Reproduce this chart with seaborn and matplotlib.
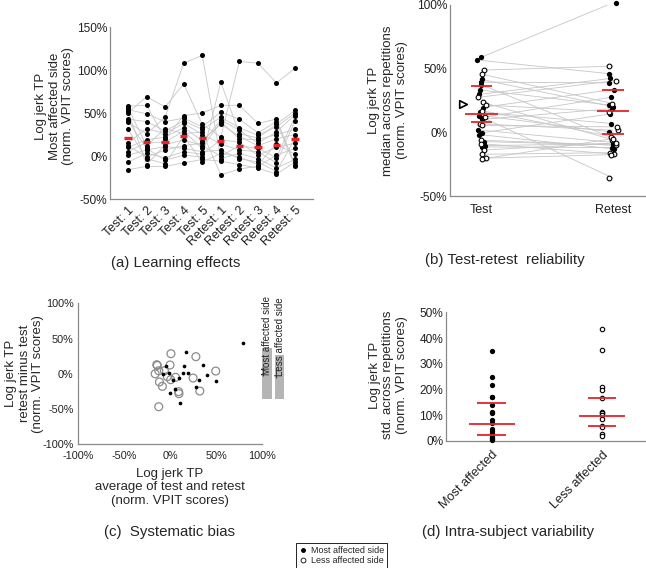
import numpy as np
import pandas as pd
import matplotlib
matplotlib.use("Agg")
import matplotlib.pyplot as plt
import seaborn as sns
from matplotlib.lines import Line2D
from matplotlib.ticker import FuncFormatter

# (a) learning effects, most affected side, one list per session (same subject order)
sessions = ["Test: 1", "Test: 2", "Test: 3", "Test: 4", "Test: 5",
            "Retest: 1", "Retest: 2", "Retest: 3", "Retest: 4", "Retest: 5"]
t1 = [50, 39, 58, 56, 54, 52, 43, 41, 15, 12, 10, 5, 1, -7, -16, 31]
t2 = [69, 26, 59, 12, 49, -10, 40, 9, 32, -1, 19, 16, 7, 3, -12, -3]
t3 = [57, 45, 20, 32, 40, 13, 29, -5, 26, 7, 22, 16, 11, -2, -12, -9]
t4 = [84, 108, 47, 26, 44, 19, 41, 1, 38, 12, 33, 29, 9, 5, -8, 23]
t5 = [37, 117, 50, 28, 34, 12, 31, -1, 25, 15, 18, 9, 5, 2, -4, -7]
r1 = [22, -3, 59, -22, 51, 0, 45, 86, 14, 42, 37, 40, 7, 19, -6, 3]
r2 = [110, 3, 59, -15, 43, 12, 33, 26, 7, 30, 23, 20, -3, 16, -10, -1]
r3 = [108, -3, 38, -12, 27, 9, 24, 21, 5, 15, 12, 19, -7, 1, -14, -10]
r4 = [85, -14, 43, 1, 40, -2, 34, 37, -8, 28, 20, 25, -18, 10, -21, 14]
r5 = [102, -4, -10, 9, -12, 46, 50, 53, 41, 48, 25, 31, 20, 15, -7, 2]
session_medians = [21, 16, 16, 23, 21, 18, 12, 10, 13, 20]

# (b) test-retest medians
b_test_most = [58.9, 56.3, 41.4, 39.3, 37.2, 33, 29.9, 19.4, 15.7, 13, 11.5, 10, 1.6, -0.5, -2, -7.3, -10.5, -11.5]
b_retest_most = [101.6, 45.6, 20, 38.7, -4.7, 21, 42.4, 33.5, 6.8, 0, 27.7, 18.6, -8, 14.7, -13, -10, -9, -12]
b_test_less = [48.7, 45.6, 27.7, 23.8, 21.5, 17, 12, 6.5, 5.3, -6.3, -9, -14, -17.3, -20.4, -21]
b_retest_less = [51.8, 22.5, 40.3, -6, 16, -3.7, -35.9, 1.6, 4.2, -10, -17, -8.5, -16, -17.5, -5]
b_q1 = [8.4, -1.6]
b_median = [14.4, 16.8]
b_q3 = [36.4, 33]
b_marker = 22.5

# (c) systematic bias
c_mean_most = [16.8, 78.8, -4.6, -7.9, -1, 15.4, 35.8, 19.7, 13.6, 9.3, 2.9, 31.5, 39.8, 50.2, 5, -0.4, 28, 11]
c_diff_most = [31.6, 43, 10.5, -0.8, 1, 11.3, 12.5, 1, 1, -5.5, -9.4, -8.3, -2.3, -10.3, -21, -26.7, -18.7, -42]
c_mean_less = [1, 28, -14.3, -13.8, 0, -12.2, -6.1, -16.1, -2.9, 0.7, 6, 25, 49.5, -11.5, -8.3, 32.3, 9.3, 9.7, -12.2]
c_diff_less = [28.5, 24.3, 12.9, 11.8, 12.5, 4.3, 4.3, 0, -4, -8.3, -5, -6, 3.9, -11.6, -17.8, -24.5, -25.3, -28.2, -46.7]
c_sides = ["Most affected side", "Less affected side"]
c_loa_upper = [37, 26.7]
c_loa_lower = [-35.8, -35.8]
c_bias = [-1.7, -3.6]

# (d) intra-subject variability
d_groups = ["Most affected", "Less affected"]
d_most = [35.1, 24.9, 21.6, 17.1, 16.9, 13.8, 11.2, 10.9, 8.1, 7, 4.7, 3.9, 2.9, 2.1, 1.6, 1, 0.5, 0.3]
d_less = [43.4, 35.3, 21, 19.7, 16.6, 11.3, 10.6, 10, 8.3, 5.8, 5.5, 2.6, 1.8]
d_q1 = [2.2, 5.6]
d_median = [6.4, 9.7]
d_q3 = [14.7, 16.6]

sns.set_theme(style="white")
plt.rcParams["font.family"] = ["Liberation Sans", "DejaVu Sans"]
plt.rcParams["axes.unicode_minus"] = False

RED = "#e3242b"
LINE = "#c6c6c6"
LAB = 9.5
pct = FuncFormatter(lambda v, p: f"{v:.0f}%")


def style(ax):
    sns.despine(ax=ax)
    for s in ["left", "bottom"]:
        ax.spines[s].set_color("#8a8a8a")
        ax.spines[s].set_linewidth(0.9)
    ax.tick_params(length=0, labelsize=8.6, pad=2, labelcolor="#222222")
    ax.yaxis.set_major_formatter(pct)


fig = plt.figure(figsize=(6.46, 5.68), dpi=100)
axa = fig.add_axes([0.1703, 0.6496, 0.3142, 0.3028])
axb = fig.add_axes([0.6966, 0.6549, 0.3034, 0.3368])
axc = fig.add_axes([0.1203, 0.2178, 0.3215, 0.2482])
axd = fig.add_axes([0.6904, 0.2241, 0.308, 0.226])

# ---- (a)
rows = []
for i, vals in enumerate([t1, t2, t3, t4, t5, r1, r2, r3, r4, r5]):
    for subj, v in enumerate(vals):
        rows.append({"pos": i, "subject": subj, "value": v})
df_a = pd.DataFrame(rows)
sns.lineplot(data=df_a, x="pos", y="value", units="subject", estimator=None,
             color=LINE, lw=0.6, legend=False, ax=axa)
sns.scatterplot(data=df_a, x="pos", y="value", color="black", s=13, linewidth=0, ax=axa, zorder=3)
pos_a = np.arange(len(sessions))
axa.hlines(session_medians, pos_a - 0.2, pos_a + 0.2, color=RED, lw=2.4, zorder=4)
style(axa)
axa.set_xlim(-0.97, 9.97)
axa.set_ylim(-50, 150)
axa.set_yticks([-50, 0, 50, 100, 150])
axa.set_xticks(pos_a, sessions, rotation=45, ha="right", rotation_mode="anchor")
axa.tick_params(axis="x", labelsize=9, pad=4)
axa.set_xlabel("")
axa.set_ylabel("Log jerk TP\nMost affected side\n(norm. VPIT scores)", fontsize=LAB, linespacing=1.2)
axa.yaxis.set_label_coords(-0.175, 0.54)

# ---- (b)
rows = []
for side, te, re in [("most", b_test_most, b_retest_most), ("less", b_test_less, b_retest_less)]:
    for k, (a, b) in enumerate(zip(te, re)):
        rows.append({"subject": f"{side}{k}", "side": side, "session": "Test", "pos": 0, "value": a})
        rows.append({"subject": f"{side}{k}", "side": side, "session": "Retest", "pos": 1, "value": b})
df_b = pd.DataFrame(rows)
sns.lineplot(data=df_b, x="pos", y="value", units="subject", estimator=None,
             color=LINE, lw=0.6, legend=False, ax=axb)
np.random.seed(2)
sns.stripplot(data=df_b[df_b.side == "most"], x="session", y="value", order=["Test", "Retest"],
              jitter=0.035, color="black", size=3.8, ax=axb, zorder=3, clip_on=False)
sns.stripplot(data=df_b[df_b.side == "less"], x="session", y="value", order=["Test", "Retest"],
              jitter=0.035, color="white", edgecolor="black", linewidth=0.8, size=3.4, ax=axb, zorder=3)
pos_b = np.arange(2)
axb.hlines(b_median, pos_b - 0.124, pos_b + 0.124, color=RED, lw=1.3, zorder=4)
axb.hlines(b_q1 + b_q3, np.tile(pos_b, 2) - 0.082, np.tile(pos_b, 2) + 0.082, color=RED, lw=1.3, zorder=4)
axb.scatter([-0.144], [b_marker], marker=">", s=30, facecolor="white", edgecolor="black", linewidth=1.2, zorder=4)
style(axb)
axb.set_xlim(-0.24, 1.25)
axb.set_ylim(-50, 100)
axb.set_yticks([-50, 0, 50, 100])
axb.tick_params(axis="x", labelsize=9, pad=6)
axb.set_xlabel("")
axb.set_ylabel("Log jerk TP\nmedian across repetitions\n(norm. VPIT scores)", fontsize=LAB, linespacing=1.2)
axb.yaxis.set_label_coords(-0.214, 0.5)

# ---- (c)
sns.scatterplot(x=c_mean_less, y=c_diff_less, color="none", edgecolor="#8c8c8c", linewidth=0.9, s=32, ax=axc)
sns.scatterplot(x=c_mean_most, y=c_diff_most, color="black", linewidth=0, s=7, ax=axc)
bar_x = [105, 119]
axc.bar(bar_x, np.array(c_loa_upper) - np.array(c_loa_lower), bottom=c_loa_lower, width=10,
        color="#b5b5b5", linewidth=0)
for x, b, lab in zip(bar_x, c_bias, c_sides):
    axc.vlines(x - 4.6, b - 2, b + 12, color="#444444", lw=0.8)
    axc.text(x, b, lab, rotation=90, ha="center", va="bottom", fontsize=7, color="#222222", clip_on=False)
style(axc)
axc.xaxis.set_major_formatter(pct)
axc.set_xlim(-100, 125)
axc.set_ylim(-100, 100)
axc.spines["bottom"].set_bounds(-100, 100)
axc.set_xticks([-100, -50, 0, 50, 100])
axc.set_yticks([-100, -50, 0, 50, 100])
axc.tick_params(labelsize=7.8)
axc.tick_params(axis="x", pad=5)
axc.tick_params(axis="y", pad=3)
axc.set_xlabel("Log jerk TP\naverage of test and retest\n(norm. VPIT scores)", fontsize=LAB, linespacing=1.2)
axc.xaxis.set_label_coords(0.444, -0.165)
axc.set_ylabel("Log jerk TP\nretest minus test\n(norm. VPIT scores)", fontsize=LAB, linespacing=1.2)
axc.yaxis.set_label_coords(-0.16, 0.5)

# ---- (d)
df_d = pd.DataFrame({"group": [d_groups[0]] * len(d_most) + [d_groups[1]] * len(d_less),
                     "value": d_most + d_less})
sns.stripplot(data=df_d[df_d.group == d_groups[0]], x="group", y="value", order=d_groups,
              jitter=False, color="black", size=3.8, ax=axd, zorder=3, clip_on=False)
sns.stripplot(data=df_d[df_d.group == d_groups[1]], x="group", y="value", order=d_groups,
              jitter=False, color="white", edgecolor="black", linewidth=0.8, size=3.2, ax=axd, zorder=3,
              clip_on=False)
pos_d = np.arange(2)
axd.hlines(d_median, pos_d - 0.21, pos_d + 0.21, color=RED, lw=1.3, zorder=4)
axd.hlines(d_q1 + d_q3, np.tile(pos_d, 2) - 0.13, np.tile(pos_d, 2) + 0.13, color=RED, lw=1.3, zorder=4)
style(axd)
axd.set_xlim(-0.415, 1.39)
axd.set_ylim(0, 50)
axd.set_yticks([0, 10, 20, 30, 40, 50])
axd.set_xticks(pos_d, d_groups, rotation=45, ha="right", rotation_mode="anchor")
axd.tick_params(axis="x", labelsize=9.2, pad=6)
axd.set_xlabel("")
axd.set_ylabel("Log jerk TP\nstd. across repetitions\n(norm. VPIT scores)", fontsize=LAB, linespacing=1.2)
axd.yaxis.set_label_coords(-0.19, 0.51)

# captions
fig.text(0.272, 0.5364, "(a) Learning effects", ha="center", va="center", fontsize=10.8)
fig.text(0.7817, 0.5423, "(b) Test-retest  reliability", ha="center", va="center", fontsize=10.8)
fig.text(0.263, 0.0634, "(c)  Systematic bias", ha="center", va="center", fontsize=10.8)
fig.text(0.786, 0.064, "(d) Intra-subject variability", ha="center", va="center", fontsize=10.8)

handles = [Line2D([], [], marker="o", ls="", color="black", ms=2.5),
           Line2D([], [], marker="o", ls="", mfc="white", mec="black", ms=3.5, mew=0.6)]
leg = fig.legend(handles, ["Most affected side", "Less affected side"], loc="center",
                 bbox_to_anchor=(0.5286, 0.022), fontsize=6.5, frameon=True, fancybox=False,
                 edgecolor="black", framealpha=1, borderpad=0.3, handletextpad=0.4,
                 labelspacing=0.15, handlelength=1.0, borderaxespad=0)
leg.get_frame().set_linewidth(0.6)

fig.savefig("out.png", dpi=100)
